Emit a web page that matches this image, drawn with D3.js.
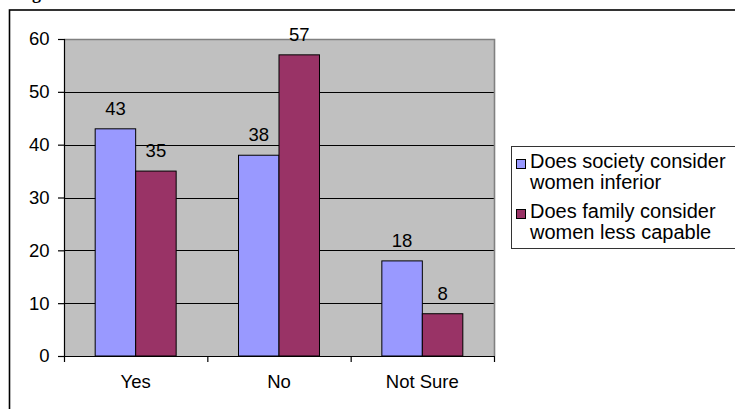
<!DOCTYPE html>
<html>
<head>
<meta charset="utf-8">
<script src="https://cdn.jsdelivr.net/npm/d3@7"></script>
<style>
    body { margin: 0; background: #fff; }
    svg { display: block; font-family: Arial, 'Liberation Sans', sans-serif; }
</style>
</head>
<body>
<svg id="chart" width="735" height="409"></svg>
<script>
'use strict';

// Chart data
const categories = ['Yes', 'No', 'Not Sure'];
const seriesNames = ['Does society consider women inferior', 'Does family consider women less capable'];
const societyValues = [43, 38, 18];
const familyValues = [35, 57, 8];
const yTicks = [0, 10, 20, 30, 40, 50, 60];

// Legend lines (wrapped as in the picture)
const legendLines = [['Does society consider', 'women inferior'], ['Does family consider', 'women less capable']];
const colors = ['#9999FF', '#993366'];

(function () {

    const svg = d3.select('#chart');

    // Plot area
    const plot = {'left': 64, 'right': 494, 'top': 39, 'bottom': 356};
    const fontSize = 18.5;

    // Caption remnant at the very top (cropped in the picture, only the descender shows)
    svg.append('text')
        .attr('x', 16)
        .attr('y', -1)
        .style('font-family', "'Liberation Serif', 'Times New Roman', serif")
        .style('font-weight', 'bold')
        .style('font-size', '18px')
        .text('Fig');

    // Outer chart frame
    svg.append('rect')
        .attr('x', 9.5)
        .attr('y', 10)
        .attr('width', 760)
        .attr('height', 420)
        .style('fill', 'none')
        .style('stroke', '#000')
        .style('stroke-width', 1.6);

    // Scales
    const scX = d3.scaleBand()
        .domain(categories)
        .range([plot.left, plot.right]);

    const scSeries = d3.scaleBand()
        .domain([0, 1])
        .range([0, scX.bandwidth()])
        .paddingOuter(0.77);

    const scY = d3.scaleLinear()
        .domain([0, 60])
        .range([plot.bottom, plot.top]);

    const scEdge = d3.scaleLinear()
        .domain([0, categories.length])
        .range([plot.left, plot.right]);

    // Plot background
    svg.append('rect')
        .attr('x', plot.left)
        .attr('y', plot.top)
        .attr('width', plot.right - plot.left)
        .attr('height', plot.bottom - plot.top)
        .style('fill', '#C0C0C0');

    // Gridlines
    svg.append('g')
        .selectAll('line')
        .data(yTicks.filter((d) => d > 0 && d < 60))
        .enter()
        .append('line')
            .attr('x1', plot.left)
            .attr('x2', plot.right)
            .attr('y1', (d) => Math.round(scY(d)) + 0.5)
            .attr('y2', (d) => Math.round(scY(d)) + 0.5)
            .style('stroke', '#000')
            .style('stroke-width', 1);

    // Plot border (top and right)
    svg.append('path')
        .attr('d', `M${plot.left},${plot.top + 0.5} H${plot.right + 0.5} V${plot.bottom}`)
        .style('fill', 'none')
        .style('stroke', '#808080')
        .style('stroke-width', 1.6);

    // Bars
    const table = categories.map((c, i) => ({'cat': c, 'vals': [societyValues[i], familyValues[i]]}));

    const groups = svg.selectAll('.group')
        .data(table)
        .enter()
        .append('g')
            .attr('class', 'group')
            .attr('transform', (d) => `translate(${scX(d.cat)}, 0)`);

    groups.selectAll('rect')
        .data((d) => d.vals.map((v, j) => ({'v': v, 'j': j})))
        .enter()
        .append('rect')
            .attr('x', (d) => scSeries(d.j))
            .attr('y', (d) => scY(d.v))
            .attr('width', scSeries.bandwidth())
            .attr('height', (d) => scY(0) - scY(d.v))
            .style('fill', (d) => colors[d.j])
            .style('stroke', '#000')
            .style('stroke-width', 1);

    // Data labels
    groups.selectAll('.val')
        .data((d) => d.vals.map((v, j) => ({'v': v, 'j': j})))
        .enter()
        .append('text')
            .attr('class', 'val')
            .attr('x', (d) => scSeries(d.j) + scSeries.bandwidth() / 2)
            .attr('y', (d) => scY(d.v) - 14)
            .attr('text-anchor', 'middle')
            .style('font-size', fontSize + 'px')
            .text((d) => d.v);

    // Y axis
    const yAxis = svg.append('g')
        .attr('transform', `translate(${plot.left}, 0)`)
        .call(d3.axisLeft(scY).tickValues(yTicks).tickSize(6).tickPadding(8.5).tickFormat(d3.format('d')));
    yAxis.select('.domain').attr('d', `M0.5,${plot.top}V${plot.bottom}`).style('stroke-width', 1.2);
    yAxis.selectAll('.tick line').attr('x1', 0.5).style('stroke-width', 1.2);
    yAxis.selectAll('text').style('font-size', fontSize + 'px').style('font-family', 'Arial, sans-serif').attr('fill', '#000');

    // X axis ticks at category edges
    const xAxis = svg.append('g')
        .attr('transform', `translate(0, ${plot.bottom})`)
        .call(d3.axisBottom(scEdge).tickValues(d3.range(categories.length + 1)).tickSize(6).tickFormat(''));
    xAxis.select('.domain').attr('d', `M${plot.left},0.5H${plot.right}`).style('stroke-width', 1.2);
    xAxis.selectAll('.tick line').style('stroke-width', 1.2);

    // X category labels
    svg.append('g')
        .selectAll('text')
        .data(categories)
        .enter()
        .append('text')
            .attr('x', (d) => scX(d) + scX.bandwidth() / 2)
            .attr('y', plot.bottom + 32)
            .attr('text-anchor', 'middle')
            .style('font-size', fontSize + 'px')
            .text((d) => d);

    // Legend
    const legend = svg.append('g')
        .attr('class', 'legend');

    legend.append('rect')
        .attr('x', 511.5)
        .attr('y', 146.5)
        .attr('width', 260)
        .attr('height', 102)
        .style('fill', '#fff')
        .style('stroke', '#333')
        .style('stroke-width', 1);

    const entries = legend.selectAll('.entry')
        .data(seriesNames)
        .enter()
        .append('g')
            .attr('class', 'entry')
            .attr('transform', (d, i) => `translate(0, ${i * 50})`);

    entries.append('rect')
        .attr('x', 516.5)
        .attr('y', 159.5)
        .attr('width', 9)
        .attr('height', 9)
        .style('fill', (d, i) => colors[i])
        .style('stroke', '#000')
        .style('stroke-width', 1);

    entries.each(function (d, i) {
        d3.select(this).selectAll('.line')
            .data(legendLines[i])
            .enter()
            .append('text')
                .attr('class', 'line')
                .attr('x', 530)
                .attr('y', (t, k) => 168 + k * 21)
                .style('font-size', '20px')
                .text((t) => t);
    });

})();
</script>
</body>
</html>
